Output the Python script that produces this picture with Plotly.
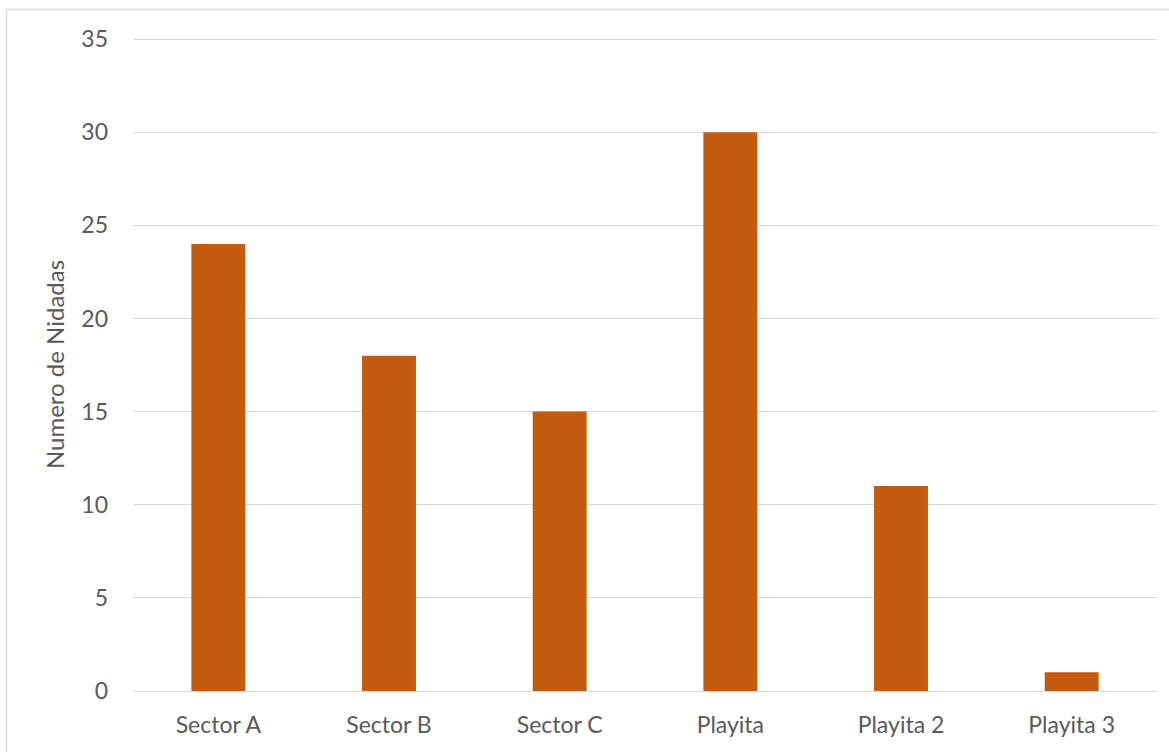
import plotly.graph_objects as go

# Nest counts per beach sector
sectores = ["Sector A", "Sector B", "Sector C", "Playita", "Playita 2", "Playita 3"]
nidadas = [24, 18, 15, 30, 11, 1]
y_ticks = [0, 5, 10, 15, 20, 25, 30, 35]

W, H = 1169, 752
L, R, T, B = 133, 12, 38, 60.5
pw, ph = W - L - R, H - T - B

def px_x(x):
    return (x - L) / pw

def px_y(y):
    return (H - B - y) / ph

text_col = "#595959"
grid_col = "#D9D9D9"
font_family = "Lato, 'Open Sans', sans-serif"
fsize = 23

fig = go.Figure(
    go.Bar(
        x=sectores,
        y=nidadas,
        width=0.316,
        marker=dict(color="#C55A11", line=dict(width=0)),
    )
)

fig.update_layout(
    width=W,
    height=H,
    autosize=False,
    margin=dict(l=L, r=R, t=T, b=B, pad=0),
    paper_bgcolor="white",
    plot_bgcolor="white",
    showlegend=False,
    font=dict(family=font_family, color=text_col, size=fsize),
    shapes=[
        dict(
            type="rect",
            xref="paper",
            yref="paper",
            x0=px_x(6.5),
            x1=px_x(1180),
            y0=px_y(765),
            y1=px_y(9.5),
            line=dict(color=grid_col, width=1.5),
            fillcolor="rgba(0,0,0,0)",
            layer="below",
        )
    ],
)

fig.update_xaxes(
    showgrid=False,
    showline=False,
    zeroline=False,
    ticks="",
    tickfont=dict(size=fsize, color=text_col),
    ticklabelstandoff=18,
)

fig.update_yaxes(
    range=[0, 35.06],
    tickvals=y_ticks,
    showgrid=True,
    gridcolor=grid_col,
    gridwidth=1.4,
    zeroline=True,
    zerolinecolor=grid_col,
    zerolinewidth=1.4,
    showline=False,
    ticks="",
    tickfont=dict(size=fsize, color=text_col),
    ticklabelstandoff=24,
    title=dict(text="Numero de Nidadas", font=dict(size=24, color=text_col), standoff=9),
)

fig.write_html("out.html")
